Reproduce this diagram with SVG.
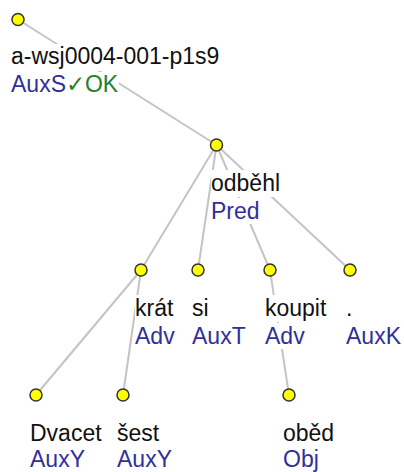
<svg xmlns="http://www.w3.org/2000/svg" width="404" height="472" viewBox="0 0 404 472">
<style>
.e{stroke:#c4c4c4;stroke-width:2;fill:none}
.n{fill:#ffff00;stroke:#333;stroke-width:1.5}
.bg{fill:#fff}
text{font-family:"Liberation Sans",Arial,sans-serif;font-size:23px}
.f{fill:#111}
.a{fill:#30309a}
.ok{fill:#23822a}
</style>
<rect width="404" height="472" fill="#fff"/>
<g id="edges">
<line class="e" x1="18" y1="19.5" x2="216.5" y2="145"/>
<line class="e" x1="216.5" y1="145" x2="141" y2="270"/>
<line class="e" x1="216.5" y1="145" x2="198" y2="270"/>
<line class="e" x1="216.5" y1="145" x2="270" y2="270"/>
<line class="e" x1="216.5" y1="145" x2="350" y2="270"/>
<line class="e" x1="141" y1="270" x2="36" y2="395"/>
<line class="e" x1="141" y1="270" x2="123" y2="395"/>
<line class="e" x1="270" y1="270" x2="289" y2="395"/>
</g>
<g id="root">
<rect class="bg" x="11" y="44" width="210" height="27"/>
<rect class="bg" x="11" y="72" width="108" height="26"/>
<circle class="n" cx="18" cy="19.5" r="6"/>
<text x="11" y="64" class="f">a-wsj0004-001-p1s9</text>
<text x="11" y="92"><tspan class="a">AuxS</tspan><tspan class="ok">✓OK</tspan></text>
</g>
<g id="odbehl">
<rect class="bg" x="211" y="170" width="69" height="27"/>
<rect class="bg" x="211" y="198" width="49" height="26"/>
<circle class="n" cx="216.5" cy="145" r="6"/>
<text x="211" y="191" class="f">odběhl</text>
<text x="211" y="219" class="a">Pred</text>
</g>
<g id="krat">
<rect class="bg" x="135" y="295" width="39" height="27"/>
<rect class="bg" x="135" y="323" width="40" height="26"/>
<circle class="n" cx="141" cy="270" r="6"/>
<text x="135" y="316" class="f">krát</text>
<text x="135" y="344" class="a">Adv</text>
</g>
<g id="si">
<rect class="bg" x="192" y="295" width="17" height="27"/>
<rect class="bg" x="192" y="323" width="54" height="26"/>
<circle class="n" cx="198" cy="270" r="6"/>
<text x="192" y="316" class="f">si</text>
<text x="192" y="344" class="a">AuxT</text>
</g>
<g id="koupit">
<rect class="bg" x="265" y="295" width="62" height="27"/>
<rect class="bg" x="265" y="323" width="40" height="26"/>
<circle class="n" cx="270" cy="270" r="6"/>
<text x="265" y="316" class="f">koupit</text>
<text x="265" y="344" class="a">Adv</text>
</g>
<g id="period">
<rect class="bg" x="346" y="295" width="7" height="27"/>
<rect class="bg" x="346" y="323" width="55" height="26"/>
<circle class="n" cx="350" cy="270" r="6"/>
<text x="346" y="316" class="f">.</text>
<text x="346" y="344" class="a">AuxK</text>
</g>
<g id="dvacet">
<rect class="bg" x="30" y="420" width="72" height="27"/>
<rect class="bg" x="30" y="447" width="55" height="25"/>
<circle class="n" cx="36" cy="395" r="6"/>
<text x="30" y="441" class="f">Dvacet</text>
<text x="30" y="467" class="a">AuxY</text>
</g>
<g id="sest">
<rect class="bg" x="117" y="420" width="42" height="27"/>
<rect class="bg" x="117" y="447" width="55" height="25"/>
<circle class="n" cx="123" cy="395" r="6"/>
<text x="117" y="441" class="f">šest</text>
<text x="117" y="467" class="a">AuxY</text>
</g>
<g id="obed">
<rect class="bg" x="283" y="420" width="51" height="27"/>
<rect class="bg" x="283" y="447" width="36" height="25"/>
<circle class="n" cx="289" cy="395" r="6"/>
<text x="283" y="441" class="f">oběd</text>
<text x="283" y="467" class="a">Obj</text>
</g>
</svg>
